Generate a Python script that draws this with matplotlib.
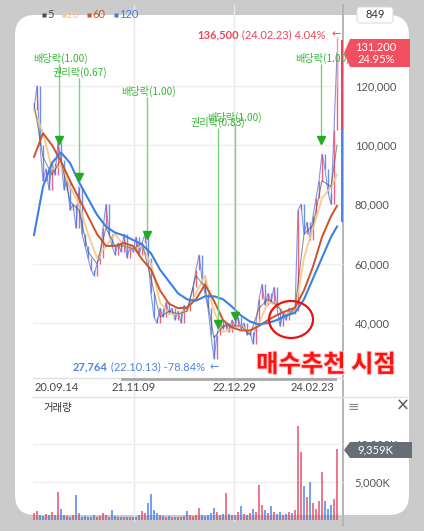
import matplotlib
matplotlib.use("Agg")
import matplotlib.pyplot as plt
from matplotlib.patches import FancyBboxPatch, Polygon, Ellipse
import matplotlib.patheffects as pe
from matplotlib.ticker import FuncFormatter

plt.rcParams['font.family'] = ['Lato', 'Noto Sans CJK KR', 'DejaVu Sans']

# ---------------- data ----------------
# closes (thousand KRW), one per sampled trading step
closes = [112, 120, 100, 88, 92, 85, 94, 90, 101, 95,
          85, 88, 78, 80, 72, 86, 70, 66, 62, 58,
          56, 60, 62, 72, 80, 70, 66, 63, 67, 64,
          70, 62, 66, 64, 69, 63, 67, 70, 62, 50,
          42, 40, 45, 42, 47, 43, 45, 41, 44, 40,
          46, 44, 48, 52, 58, 63, 55, 50, 45, 36,
          28, 36, 41, 38, 40, 37, 41, 39, 42, 38,
          40, 36, 37, 33, 40, 48, 53, 46, 50, 47,
          52, 45, 39, 43, 41, 45, 43, 44, 78, 80,
          70, 74, 68, 76, 82, 88, 97, 92, 84, 80,
          105, 131.2]
# volume (thousand shares)
volume = [900, 1200, 700, 500, 800, 600, 1100, 700, 3700, 1500,
          600, 500, 400, 700, 3300, 900, 400, 500, 350, 400,
          600, 450, 500, 900, 600, 400, 1300, 500, 400, 350,
          450, 400, 350, 400, 450, 700, 1200, 900, 2200, 3400,
          1300, 900, 600, 500, 450, 500, 400, 350, 400, 450,
          500, 1200, 600, 500, 700, 1600, 700, 500, 600, 900,
          1600, 1000, 700, 800, 3500, 800, 600, 700, 1000, 1800,
          800, 600, 900, 1400, 1000, 4600, 2000, 1300, 900, 1800,
          1100, 800, 1000, 700, 800, 1000, 900, 1300, 12400, 8900,
          4500, 3000, 5000, 2200, 1500, 2500, 6300, 2500, 1500, 2000,
          2800, 9359]

ma_idx = [0, 3, 6, 9, 12, 15, 18, 21, 24, 27, 30, 33, 36, 39, 42, 45, 48, 51,
          54, 57, 60, 63, 66, 69, 72, 75, 78, 81, 84, 87, 90, 93, 96, 99, 101]
ma5 = [114, 96, 90, 95, 81, 78, 64, 60, 72, 66, 66, 65, 67, 55, 42, 44, 43, 44,
       56, 52, 35, 39, 39, 39, 36, 45, 48, 46, 42, 45, 70, 73, 88, 86, 100]
ma20 = [112, 104, 92, 93, 86, 80, 70, 62, 66, 70, 66, 65, 66, 60, 47, 43, 43, 44,
        50, 56, 44, 37, 38, 39, 37, 40, 47, 46, 43, 44, 62, 72, 82, 86, 90]
ma60 = [96, 104, 100, 94.5, 88, 82, 76, 70, 66, 66, 67, 66, 61.5, 58, 51, 46.5, 45, 45.2,
        48, 53, 47.5, 41, 38.5, 37.5, 37.5, 39, 41, 42.7, 44, 45.2, 51, 59, 69, 76, 79.5]
ma120 = [69.7, 86, 94, 97.5, 94, 87.5, 82, 76.5, 72.5, 70.5, 69.5, 68, 66.5, 63.5, 58, 54, 50, 48,
         47.5, 49, 49, 48, 45.5, 42.5, 40.5, 39.5, 40, 41, 42.5, 43.5, 48, 55, 62, 69, 72.5]

date_labels = ["20.09.14", "21.11.09", "22.12.29", "24.02.23"]
date_idx = [7.67, 33.33, 66.67, 92.67]

event_labels = ["배당락(1.00)", "권리락(0.67)", "배당락(1.00)", "권리락(0.83)", "배당락(1.00)", "배당락(1.00)"]
event_idx = [8.33, 15, 37.67, 61.33, 67, 95.67]
event_price = [100.5, 88, 68.5, 38.3, 41, 100.5]

price_ticks = [40000, 60000, 80000, 100000, 120000]
vol_ticks = [5000, 10000]

high_txt, high_rest = "136,500", " (24.02.23) 4.04%"
low_txt, low_rest = "27,764", " (22.10.13) -78.84%"
last_price, last_pct = "131,200", "24.95%"
high_price = 136.5
prev_close = 105
cur_vol_txt = "9,359K"
ma_names = ["5", "20", "60", "120"]

# ---------------- styling ----------------
W, H = 424, 531
C_UP, C_DN = "#e8405a", "#3f78e6"
C_MA = ["#4a4a4a", "#f7c889", "#cc5428", "#3b80e2"]
GREEN = "#33b533"

def rect(x0, y0, x1, y1):
    return [x0 / W, 1 - y1 / H, (x1 - x0) / W, (y1 - y0) / H]

def px2price(y):
    return (40000 + (323 - y) / 2.965 * 1000) / 1000.0

fig = plt.figure(figsize=(W / 100, H / 100), dpi=100)

# background
bg = fig.add_axes([0, 0, 1, 1], zorder=0)
bg.set_xlim(0, W); bg.set_ylim(H, 0); bg.axis("off")
bg.add_patch(plt.Rectangle((0, 0), W, H, color="#cbcbcb"))
bg.add_patch(FancyBboxPatch((15, 15), 394, 500, boxstyle="round,pad=0,rounding_size=20",
                            fc="white", ec="none"))
for gx in (134, 234):
    bg.plot([gx, gx], [5, 521], color="#e8e8e8", lw=1)
bg.plot([343, 343], [5, 526], color="#b5b5b5", lw=1.4)
bg.plot([33, 409], [397, 397], color="#e2e2e2", lw=1)
bg.plot([33, 343], [378, 378], color="#e0e0e0", lw=1)
bg.plot([122, 335], [378.5, 378.5], color="#a8a8a8", lw=2)

# price axes
ax = fig.add_axes(rect(33, 20, 343, 378), zorder=1)
ax.set_facecolor("none")
xmin, xmax = -1 / 3, 103
ax.set_xlim(xmin, xmax)
ax.set_ylim(px2price(378), px2price(20))
for s in ax.spines.values():
    s.set_visible(False)
for t in price_ticks:
    ax.axhline(t / 1000, color="#efefef", lw=1, zorder=0)
ax.yaxis.tick_right()
ax.set_yticks([t / 1000 for t in price_ticks])
ax.yaxis.set_major_formatter(FuncFormatter(lambda v, p: f"{int(round(v * 1000)):,}"))
ax.tick_params(axis="y", length=0, pad=8.5, labelsize=8, labelcolor="#555555")
ax.set_xticks(date_idx)
ax.set_xticklabels(date_labels)
ax.tick_params(axis="x", length=0, pad=3, labelsize=8, labelcolor="#444444")

# candles (previous close -> close)
for i in range(1, len(closes)):
    up = closes[i] >= closes[i - 1]
    ax.vlines(i, closes[i - 1], closes[i], color=C_UP if up else C_DN, lw=1.0, alpha=0.8, zorder=2)
ax.plot(range(len(closes)), closes, color="#5f6fe0", lw=0.8, alpha=0.75, zorder=2)

ax.plot(ma_idx, ma20, color=C_MA[1], lw=1.4, alpha=0.9, zorder=3)
ax.plot(ma_idx, ma5, color=C_MA[0], lw=0.8, alpha=0.6, zorder=3)
ax.plot(ma_idx, ma60, color=C_MA[2], lw=1.4, zorder=4)
ax.plot(ma_idx, ma120, color=C_MA[3], lw=1.5, zorder=5)

# last candle wick / highlight
n = len(closes) - 1
ax.vlines(n, px2price(88), high_price, color="#f29aa6", lw=1, zorder=3)
ax.vlines(102.67, prev_close, px2price(40), color="#e8405a", lw=1.4, zorder=3)
ax.vlines(102.67, 74, prev_close, color="#4a82e6", lw=1.4, zorder=3)

# events
label_y = [58, 72, 91, 122, 117, 58]
label_x = [60, 80, 148, 218, 234, 322]
for lab, xi, pr, ly, lx in zip(event_labels, event_idx, event_price, label_y, label_x):
    ax.vlines(xi, pr, px2price(ly + 6), color="#7cd27c", lw=1, zorder=6)
    ax.plot([xi], [pr + 1.3], marker="v", color="#22aa22", ms=6, zorder=7)
    ax.text((lx - 34) / 3, px2price(ly), lab, color=GREEN, fontsize=7.3,
            family=["Noto Sans CJK KR"], ha="center", va="center", zorder=7)

# overlay
ax_ov = fig.add_axes([0, 0, 1, 1], zorder=3)
ax_ov.set_xlim(0, W); ax_ov.set_ylim(H, 0); ax_ov.axis("off")
ax_ov.add_patch(Ellipse((291, 319.5), 44, 37, fill=False, ec="#ee1111", lw=1.6))

# volume axes
axv = fig.add_axes(rect(33, 400, 343, 520), zorder=1)
axv.set_facecolor("none")
axv.set_xlim(xmin, xmax)
axv.set_ylim(0, 120 * 5000 / 38)
for s in axv.spines.values():
    s.set_visible(False)
for t in vol_ticks:
    axv.axhline(t, color="#efefef", lw=1, zorder=0)
vcols = [C_UP] + [C_UP if closes[i] >= closes[i - 1] else C_DN for i in range(1, len(closes))]
axv.bar(range(len(volume)), volume, width=0.6, color=vcols, alpha=0.7, zorder=2)
axv.yaxis.tick_right()
axv.set_yticks(vol_ticks)
axv.set_yticklabels([f"{t:,}K" for t in vol_ticks])
axv.tick_params(axis="y", length=0, pad=8.5, labelsize=8, labelcolor="#555555")
axv.set_xticks([])

# ---------------- overlay texts ----------------
fig.canvas.draw()
rend = fig.canvas.get_renderer()

def pair(x, y, bold, rest, color, size=8):
    t1 = ax_ov.text(x, y, bold, color=color, fontsize=size, weight="bold", va="center", ha="left")
    w = t1.get_window_extent(rend).width
    t2 = ax_ov.text(x + w, y, rest, color=color, fontsize=size, va="center", ha="left")
    return x + w + t2.get_window_extent(rend).width

pair(197, 35, high_txt, high_rest, "#e8485a")
ax_ov.text(336, 34, "←", color="#e8485a", fontsize=8, family=["DejaVu Sans"], va="center", ha="center")
pair(73, 367, low_txt, low_rest, "#4a88e2")
ax_ov.text(214, 367, "←", color="#4a88e2", fontsize=8, family=["DejaVu Sans"], va="center", ha="center")

# legend
lx = [42, 62, 87, 114]
for x0, name, c in zip(lx, ma_names, C_MA):
    ax_ov.plot([x0 + 1.5], [14.5], marker="s", ms=3.2, color=c, mec="none")
    ax_ov.text(x0 + 5, 14, name, color=c, fontsize=8, va="center", ha="left")

# 849 box
ax_ov.add_patch(FancyBboxPatch((357, 7), 36, 16, boxstyle="round,pad=0,rounding_size=3",
                               fc="white", ec="#dcdcdc", lw=0.8))
ax_ov.text(375, 15, "849", color="#333333", fontsize=8, ha="center", va="center")

# current price box
ax_ov.add_patch(Polygon([(344, 53), (350, 39), (410, 39), (410, 67), (350, 67)],
                        closed=True, fc="#f2505f", ec="none"))
ax_ov.text(376, 46.5, last_price, color="white", fontsize=8, ha="center", va="center")
ax_ov.text(376, 59.5, last_pct, color="white", fontsize=8, ha="center", va="center")

# current volume box
ax_ov.add_patch(Polygon([(344, 450), (350, 442), (412, 442), (412, 458), (350, 458)],
                        closed=True, fc="#686d76", ec="none"))
ax_ov.text(375, 450, cur_vol_txt, color="white", fontsize=8, ha="center", va="center")

ax_ov.text(43, 408, "거래량", color="#333333", fontsize=7.5, family=["Noto Sans CJK KR"],
           ha="left", va="center")
ax_ov.text(353, 407, "≡", color="#888888", fontsize=10, family=["DejaVu Sans"], ha="center", va="center")
ax_ov.text(403, 406, "×", color="#555555", fontsize=12, family=["DejaVu Sans"], ha="center", va="center")

ax_ov.text(326, 365, "매수추천 시점", color="#ff1111", fontsize=17.5, weight="bold",
           family=["Noto Sans CJK KR"], ha="center", va="center",
           path_effects=[pe.withStroke(linewidth=1.5, foreground="#ffd0d0")])

fig.savefig("out.png", dpi=100)
